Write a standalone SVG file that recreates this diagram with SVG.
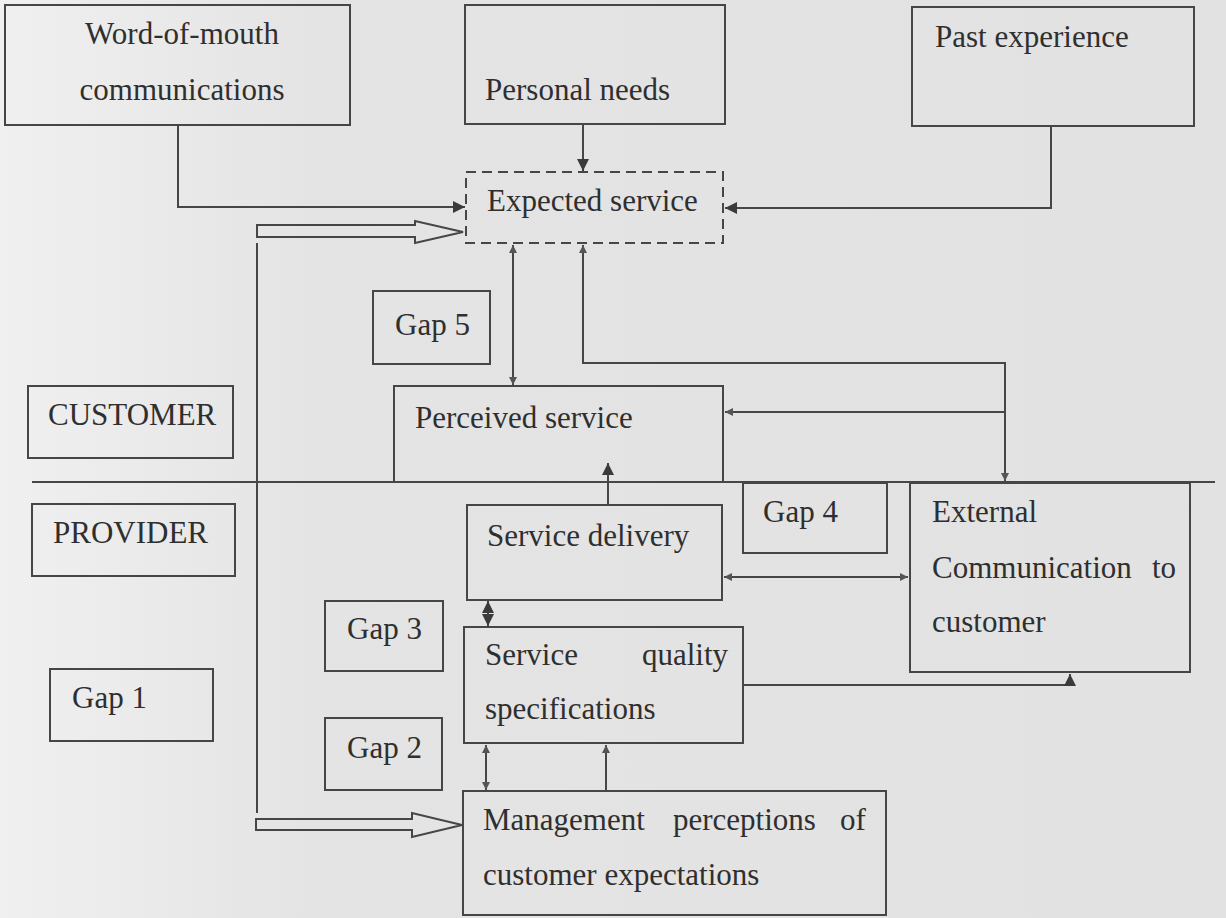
<svg xmlns="http://www.w3.org/2000/svg" width="1226" height="918" viewBox="0 0 1226 918">
<defs>
<linearGradient id="bg" x1="0" y1="0" x2="1" y2="0">
<stop offset="0" stop-color="#f0f0f0"/>
<stop offset="0.25" stop-color="#e4e4e4"/>
<stop offset="1" stop-color="#e2e2e2"/>
</linearGradient>
<marker id="big" viewBox="0 0 10 10" markerUnits="userSpaceOnUse" markerWidth="13" markerHeight="12" refX="10" refY="5" orient="auto-start-reverse">
<path d="M0,0 L10,5 L0,10 z" fill="#3a3a3a"/>
</marker>
<marker id="sm" viewBox="0 0 10 10" markerUnits="userSpaceOnUse" markerWidth="8" markerHeight="8" refX="10" refY="5" orient="auto-start-reverse">
<path d="M0,0 L10,5 L0,10 z" fill="#555"/>
</marker>
</defs>
<style>
.box{fill:none;stroke:#464646;stroke-width:2}
.dash{fill:none;stroke:#464646;stroke-width:2;stroke-dasharray:10,6}
.ln{fill:none;stroke:#464646;stroke-width:2}
.t{font-family:"Liberation Serif","Times New Roman",serif;font-size:31px;fill:#2f2f2f}
</style>
<rect x="0" y="0" width="1226" height="918" fill="url(#bg)"/>

<g id="connectors">
<path class="ln" d="M178,125 V207 H465" marker-end="url(#big)"/>
<path class="ln" d="M583,124 V171" marker-end="url(#big)"/>
<path class="ln" d="M1051,126 V208 H725" marker-end="url(#big)"/>
<polygon class="ln" points="257,225 415,225 415,221 463,232 415,243 415,237 257,237"/>
<polygon class="ln" points="256,819 412,819 412,813 462,825 412,837 412,830 256,830"/>
<path class="ln" d="M257,243 V813"/>
<path class="ln" d="M32,482 H1215"/>
<path class="ln" d="M513,245 V385" marker-start="url(#sm)" marker-end="url(#sm)"/>
<path class="ln" d="M583,245 V363 H1005 V481" marker-start="url(#sm)" marker-end="url(#sm)"/>
<path class="ln" d="M1005,412 H725" marker-end="url(#sm)"/>
<path class="ln" d="M608,505 V463" marker-end="url(#big)"/>
<path class="ln" d="M724,577 H908" marker-start="url(#sm)" marker-end="url(#sm)"/>
<path class="ln" d="M488,601 V626" marker-start="url(#big)" marker-end="url(#big)"/>
<path class="ln" d="M486,745 V790" marker-start="url(#sm)" marker-end="url(#sm)"/>
<path class="ln" d="M606,745 V791" marker-start="url(#sm)"/>
<path class="ln" d="M743,685 H1070 V674" marker-end="url(#big)"/>
</g>

<g id="word-of-mouth">
<rect class="box" x="5" y="5" width="345" height="120"/>
<text class="t" x="182" y="44" text-anchor="middle">Word-of-mouth</text>
<text class="t" x="182" y="100" text-anchor="middle">communications</text>
</g>
<g id="personal-needs">
<rect class="box" x="465" y="5" width="260" height="119"/>
<text class="t" x="485" y="100">Personal needs</text>
</g>
<g id="past-experience">
<rect class="box" x="912" y="7" width="282" height="119"/>
<text class="t" x="935" y="47">Past experience</text>
</g>
<g id="expected-service">
<rect class="dash" x="466" y="172" width="257" height="71"/>
<text class="t" x="487" y="211">Expected service</text>
</g>
<g id="gap5">
<rect class="box" x="373" y="291" width="117" height="73"/>
<text class="t" x="395" y="335">Gap 5</text>
</g>
<g id="customer">
<rect class="box" x="28" y="386" width="205" height="72"/>
<text class="t" x="48" y="425">CUSTOMER</text>
</g>
<g id="perceived-service">
<rect class="box" x="394" y="386" width="329" height="96"/>
<text class="t" x="415" y="428">Perceived service</text>
</g>
<g id="provider">
<rect class="box" x="32" y="504" width="203" height="72"/>
<text class="t" x="53" y="543">PROVIDER</text>
</g>
<g id="service-delivery">
<rect class="box" x="467" y="505" width="255" height="95"/>
<text class="t" x="487" y="546">Service delivery</text>
</g>
<g id="gap4">
<rect class="box" x="743" y="483" width="144" height="70"/>
<text class="t" x="763" y="522">Gap 4</text>
</g>
<g id="external-communication">
<rect class="box" x="910" y="483" width="280" height="189"/>
<text class="t" x="932" y="522">External</text>
<text class="t" x="932" y="578">Communication</text>
<text class="t" x="1152" y="578">to</text>
<text class="t" x="932" y="632">customer</text>
</g>
<g id="gap3">
<rect class="box" x="325" y="601" width="118" height="70"/>
<text class="t" x="347" y="639">Gap 3</text>
</g>
<g id="service-quality">
<rect class="box" x="464" y="627" width="279" height="116"/>
<text class="t" x="485" y="665">Service</text>
<text class="t" x="642" y="665">quality</text>
<text class="t" x="485" y="719">specifications</text>
</g>
<g id="gap1">
<rect class="box" x="50" y="669" width="163" height="72"/>
<text class="t" x="72" y="708">Gap 1</text>
</g>
<g id="gap2">
<rect class="box" x="325" y="718" width="117" height="72"/>
<text class="t" x="347" y="758">Gap 2</text>
</g>
<g id="management">
<rect class="box" x="463" y="791" width="423" height="124"/>
<text class="t" x="483" y="830">Management</text>
<text class="t" x="673" y="830">perceptions</text>
<text class="t" x="840" y="830">of</text>
<text class="t" x="483" y="885">customer expectations</text>
</g>
</svg>
